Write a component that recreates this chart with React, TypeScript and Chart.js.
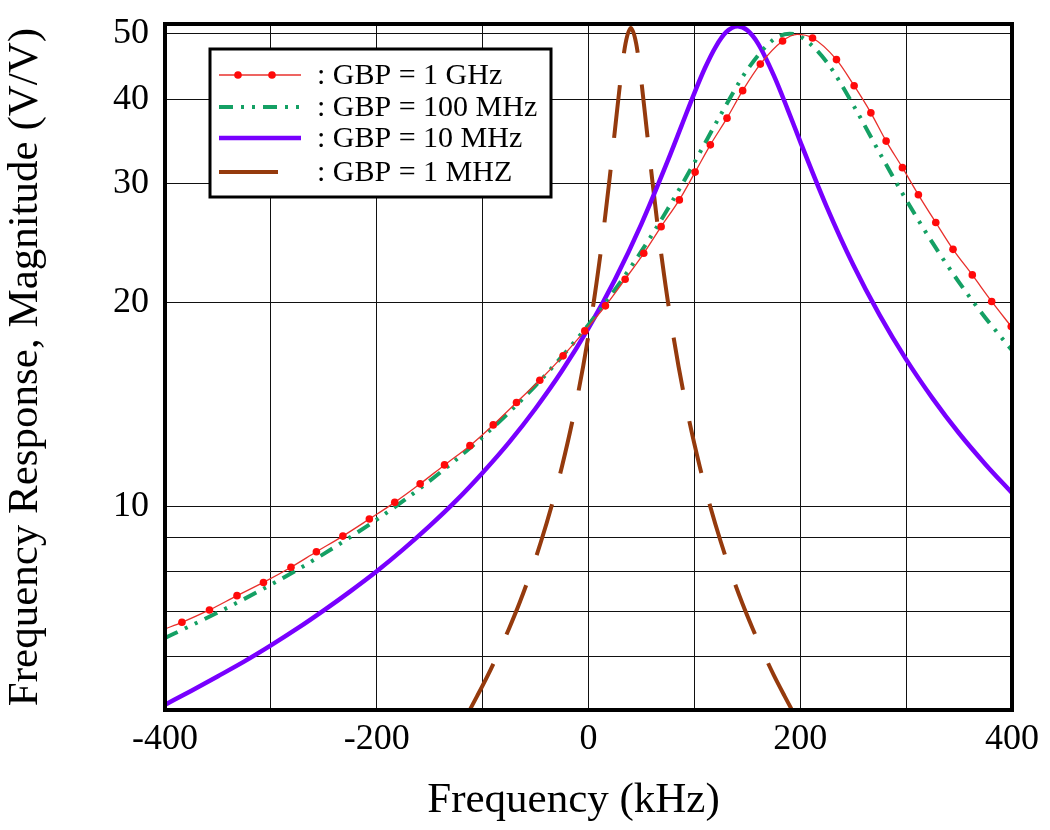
import React, { useEffect, useRef } from 'react';
import { Chart, registerables } from 'chart.js';

Chart.register(...registerables);

// ---------- axis definitions ----------
const X_MIN = -400;
const X_MAX = 400;
const X_GRID_STEP = 100;
const X_LABEL_STEP = 200;
const Y_MIN = 5;
const Y_MAX = 51.7;
const yGridValues = [5, 6, 7, 8, 9, 10, 20, 30, 40, 50];
const yLabelValues = [10, 20, 30, 40, 50];

const xTitle = 'Frequency (kHz)';
const yTitle = 'Frequency Response, Magnitude (V/V)';
const seriesLabels = [': GBP = 1 GHz', ': GBP = 100 MHz', ': GBP = 10 MHz', ': GBP = 1 MHZ'];

// ---------- data (frequency in kHz, magnitude in V/V) ----------
// GBP = 1 GHz (red line with markers)
const redFreq = [-400, -384, -358, -332, -307, -281, -257, -232, -207, -183, -159, -136, -112, -90, -68, -46, -24, -3.5, 16, 34.6, 52.2, 68.6, 85.8, 100.7, 115.1, 130.8, 145.6, 162.3, 183.3, 197, 211.6, 234.2, 250.9, 266.7, 281.1, 296.5, 311.6, 328, 344.3, 362.5, 380.8, 399.3];
const redMag = [6.59, 6.74, 7.03, 7.38, 7.72, 8.13, 8.57, 9.04, 9.58, 10.14, 10.8, 11.52, 12.3, 13.2, 14.25, 15.37, 16.7, 18.18, 19.8, 21.68, 23.68, 25.93, 28.4, 31.22, 34.26, 37.52, 41.2, 45.1, 48.8, 49.9, 49.3, 45.8, 41.9, 38.2, 34.7, 31.7, 28.9, 26.3, 24.0, 22.0, 20.1, 18.45];
const redUnmarked = [0, 29];

// GBP = 100 MHz (green dash-dot-dot)
const greenFreq = [-400, -375, -350, -325, -300, -275, -250, -225, -200, -175, -150, -125, -100, -75, -50, -25, 0, 25, 50, 75, 100, 125, 150, 175, 190, 200, 225, 250, 275, 300, 325, 350, 375, 400];
const greenMag = [6.39, 6.67, 6.97, 7.3, 7.66, 8.06, 8.51, 9.01, 9.56, 10.19, 10.91, 11.73, 12.67, 13.78, 15.09, 16.67, 18.57, 20.92, 23.85, 27.56, 32.26, 38.0, 44.25, 49.06, 50.0, 49.57, 45.41, 39.25, 33.33, 28.42, 24.53, 21.45, 19.0, 17.02];

// GBP = 10 MHz (purple solid)
const purpleFreq = [-400, -375, -350, -325, -300, -275, -250, -225, -200, -175, -150, -125, -100, -75, -50, -25, 0, 25, 50, 75, 88, 100, 110, 120, 130, 141, 150, 160, 175, 188, 200, 225, 250, 275, 300, 325, 350, 375, 400];
const purpleMag = [5.09, 5.34, 5.61, 5.9, 6.23, 6.6, 7.02, 7.49, 8.02, 8.64, 9.36, 10.2, 11.22, 12.44, 13.96, 15.87, 18.35, 21.65, 26.18, 32.49, 36.6, 40.87, 44.5, 47.8, 50.27, 51.3, 50.6, 48.4, 43.4, 38.7, 34.64, 27.74, 22.77, 19.18, 16.5, 14.45, 12.83, 11.54, 10.47];

// GBP = 1 MHz (brown long dashes)
const brownFreq = [-125, -115, -105, -95, -85, -75, -65, -55, -45, -35, -25, -15, -5, 5, 10, 15, 20, 25, 30, 35, 40, 45, 50, 55, 60, 65, 70, 75, 85, 95, 105, 115, 125, 135, 145, 155, 165, 175, 185, 195, 205];
const brownMag = [4.62, 4.91, 5.25, 5.63, 6.08, 6.6, 7.21, 7.95, 8.86, 10.0, 11.47, 13.42, 16.13, 20.09, 22.81, 26.24, 30.6, 36.06, 42.43, 48.4, 51.0, 48.4, 42.43, 36.06, 30.6, 26.24, 22.81, 20.09, 16.13, 13.42, 11.47, 10.0, 8.86, 7.95, 7.21, 6.6, 6.08, 5.63, 5.25, 4.91, 4.62];

// ---------- styles ----------
const FONT = '"Liberation Serif", "Times New Roman", serif';
const RED = '#e8302c';
const RED_DOT = '#ff0a0a';
const GREEN = '#14a064';
const PURPLE = '#7800ff';
const BROWN = '#953a0d';
const GREEN_DASH = [14, 8, 3, 8, 3, 8];
const BROWN_DASH = [53, 32];

const toPoints = (xs: number[], ys: number[]) => xs.map((x, i) => ({ x, y: ys[i] }));

const frameLegendPlugin = {
  id: 'frameLegend',
  afterDraw(chart: any) {
    const { ctx, chartArea: a } = chart;
    ctx.save();
    // thick frame
    ctx.strokeStyle = '#000';
    ctx.lineWidth = 4;
    ctx.setLineDash([]);
    ctx.strokeRect(a.left, a.top, a.right - a.left, a.bottom - a.top);

    // x-axis title
    ctx.fillStyle = '#000';
    ctx.font = `43px ${FONT}`;
    ctx.textAlign = 'center';
    ctx.textBaseline = 'alphabetic';
    ctx.fillText(xTitle, (a.left + a.right) / 2 - 15, a.bottom + 102);

    // legend box
    const bx = a.left + 45;
    const by = a.top + 25;
    const bw = 341;
    const bh = 148;
    ctx.fillStyle = '#fff';
    ctx.fillRect(bx, by, bw, bh);
    ctx.lineWidth = 3;
    ctx.strokeRect(bx, by, bw, bh);

    const rows = [26, 58, 89, 123];
    const x0 = bx + 9;
    const x1 = bx + 91;
    const tx = bx + 107;

    // red
    let y = by + rows[0];
    ctx.strokeStyle = RED;
    ctx.lineWidth = 1.3;
    ctx.beginPath();
    ctx.moveTo(x0, y);
    ctx.lineTo(x1, y);
    ctx.stroke();
    ctx.fillStyle = RED_DOT;
    [x0 + 19, x0 + 53].forEach((dx) => {
      ctx.beginPath();
      ctx.arc(dx, y, 3.8, 0, Math.PI * 2);
      ctx.fill();
    });

    // green
    y = by + rows[1];
    ctx.strokeStyle = GREEN;
    ctx.lineWidth = 4;
    ctx.setLineDash(GREEN_DASH);
    ctx.beginPath();
    ctx.moveTo(x0, y);
    ctx.lineTo(x1, y);
    ctx.stroke();
    ctx.setLineDash([]);

    // purple
    y = by + rows[2];
    ctx.strokeStyle = PURPLE;
    ctx.lineWidth = 4.5;
    ctx.beginPath();
    ctx.moveTo(x0, y);
    ctx.lineTo(x1, y);
    ctx.stroke();

    // brown
    y = by + rows[3];
    ctx.strokeStyle = BROWN;
    ctx.lineWidth = 4;
    ctx.beginPath();
    ctx.moveTo(x0, y);
    ctx.lineTo(x0 + 59, y);
    ctx.stroke();

    // labels
    ctx.fillStyle = '#000';
    ctx.font = `30px ${FONT}`;
    ctx.textBaseline = 'middle';
    ctx.textAlign = 'left';
    seriesLabels.forEach((t, i) => ctx.fillText(t, tx, by + rows[i] + 1));
    ctx.restore();
  },
};

export default function App() {
  const ref = useRef<HTMLCanvasElement>(null);

  useEffect(() => {
    const canvas = ref.current;
    if (!canvas) return;
    const chart = new Chart(canvas, {
      type: 'line',
      data: {
        datasets: [
          {
            label: seriesLabels[0],
            data: toPoints(redFreq, redMag),
            borderColor: RED,
            borderWidth: 1.3,
            pointBackgroundColor: RED_DOT,
            pointBorderWidth: 0,
            pointRadius: (c: any) => (redUnmarked.includes(c.dataIndex) ? 0 : 3.8),
            order: 0,
          },
          {
            label: seriesLabels[1],
            data: toPoints(greenFreq, greenMag),
            borderColor: GREEN,
            borderWidth: 4,
            borderDash: GREEN_DASH,
            pointRadius: 0,
            order: 1,
          },
          {
            label: seriesLabels[2],
            data: toPoints(purpleFreq, purpleMag),
            borderColor: PURPLE,
            borderWidth: 4.5,
            pointRadius: 0,
            order: 2,
          },
          {
            label: seriesLabels[3],
            data: toPoints(brownFreq, brownMag),
            borderColor: BROWN,
            borderWidth: 4,
            borderDash: BROWN_DASH,
            borderDashOffset: 59,
            pointRadius: 0,
            order: 3,
          },
        ],
      },
      options: {
        responsive: false,
        animation: false,
        devicePixelRatio: 1,
        layout: { padding: { top: 24, right: 38, left: 0, bottom: 0 } },
        elements: { line: { cubicInterpolationMode: 'monotone' } },
        plugins: { legend: { display: false }, tooltip: { enabled: false } },
        scales: {
          x: {
            type: 'linear',
            min: X_MIN,
            max: X_MAX,
            afterFit: (s: any) => {
              s.height = 120;
              s.paddingLeft = 0;
              s.paddingRight = 0;
            },
            ticks: {
              stepSize: X_GRID_STEP,
              autoSkip: false,
              maxRotation: 0,
              padding: 8,
              color: '#000',
              font: { family: FONT, size: 36 },
              callback: (v: any) => (Math.abs(Number(v) % X_LABEL_STEP) < 1e-6 ? String(v) : ''),
            },
            grid: { color: '#111', lineWidth: 1, drawTicks: false },
            border: { display: false },
            title: { display: false },
          },
          y: {
            type: 'logarithmic',
            min: Y_MIN,
            max: Y_MAX,
            afterFit: (s: any) => {
              s.width = 165;
              s.paddingTop = 0;
              s.paddingBottom = 0;
            },
            afterBuildTicks: (s: any) => {
              s.ticks = yGridValues.map((v) => ({ value: v }));
            },
            ticks: {
              padding: 16,
              color: '#000',
              font: { family: FONT, size: 36 },
              callback: (v: any) => (yLabelValues.some((l) => Math.abs(l - Number(v)) < 1e-6) ? String(v) : ''),
            },
            grid: { color: '#111', lineWidth: 1, drawTicks: false },
            border: { display: false },
            title: {
              display: true,
              text: yTitle,
              color: '#000',
              font: { family: FONT, size: 43 },
              padding: { top: 0, bottom: 0 },
            },
          },
        },
      },
      plugins: [frameLegendPlugin],
    } as any);
    return () => chart.destroy();
  }, []);

  return (
    <div style={{ position: 'absolute', left: 0, top: 0, width: 1050, height: 830, background: '#fff' }}>
      <canvas ref={ref} width={1050} height={830} style={{ display: 'block', width: 1050, height: 830 }} />
    </div>
  );
}
